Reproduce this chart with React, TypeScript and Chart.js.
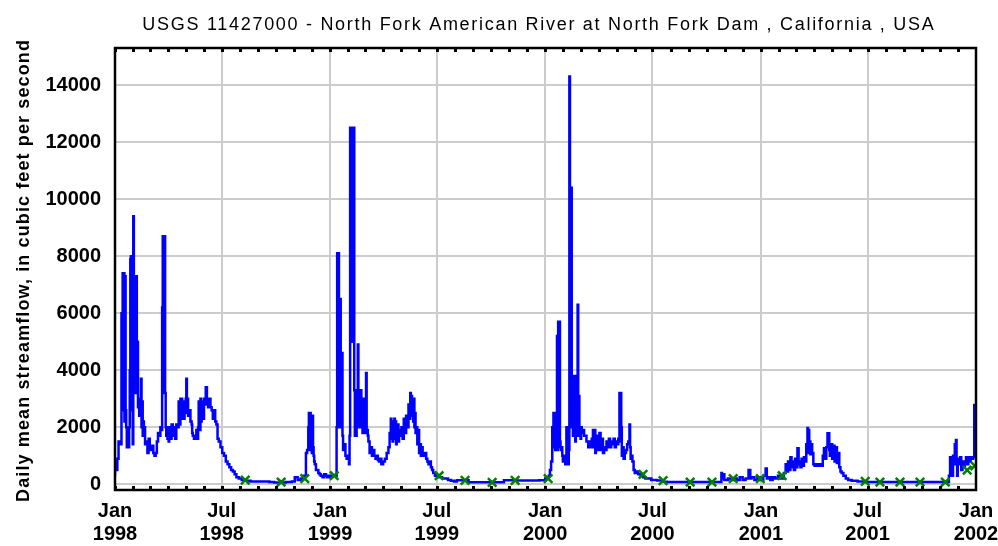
import React, { useEffect, useRef } from "react";
import { Chart, registerables } from "chart.js";

Chart.register(...registerables);

// ---------- text ----------
const chartTitle =
  "USGS 11427000 - North Fork American River at North Fork Dam , California , USA";
const yAxisTitle = "Daily mean streamflow, in cubic feet per second";

// ---------- axes ----------
const yTicks = [0, 2000, 4000, 6000, 8000, 10000, 12000, 14000];
const xTickMonths: [number, number][] = [
  [1998, 0], [1998, 6], [1999, 0], [1999, 6], [2000, 0],
  [2000, 6], [2001, 0], [2001, 6], [2002, 0],
];
const xTickLabels = [
  ["Jan", "1998"], ["Jul", "1998"], ["Jan", "1999"], ["Jul", "1999"], ["Jan", "2000"],
  ["Jul", "2000"], ["Jan", "2001"], ["Jul", "2001"], ["Jan", "2002"],
];

// ---------- data: [day since 1998-01-01, daily mean flow cfs] ----------
const flow1998: [number, number][] = [
  [0, 300], [2, 800], [4, 500], [6, 900], [8, 1500], [11, 1400], [13, 6000], [14, 7400], [15, 2600],
  [16, 7400], [17, 2200], [18, 7300], [19, 2600], [20, 2000], [22, 1300], [24, 1300], [25, 2000],
  [26, 4000], [27, 7900], [28, 8000], [29, 2600], [30, 8000], [31, 1400], [32, 9400], [33, 7300],
  [34, 3200], [35, 7300], [36, 4000], [37, 7300], [38, 3200], [39, 5000], [40, 2700], [41, 3000],
  [42, 2400], [44, 2600], [45, 3700], [46, 2000], [47, 2900], [48, 1700], [49, 2200], [51, 2000],
  [53, 1400], [55, 1500], [57, 1100], [59, 1600], [61, 1300], [63, 1200], [65, 1350], [67, 1100],
  [69, 1000], [71, 1100], [73, 1500], [75, 1800], [77, 1700], [79, 2000], [80, 1900], [81, 6200],
  [82, 8700], [83, 8700], [84, 3200], [85, 8700], [86, 3200], [87, 2000], [88, 1700], [89, 2000],
  [90, 1600], [91, 2000], [92, 1500], [93, 2000], [94, 1700], [95, 1900], [96, 1600], [98, 2100],
  [100, 1700], [102, 2000], [104, 1600], [106, 2100], [108, 2000], [110, 2900], [111, 2100],
  [112, 3000], [113, 2400], [114, 3000], [115, 2300], [116, 2600], [117, 2700], [118, 2300],
  [119, 2900], [120, 2500], [121, 3000], [122, 3700], [123, 2600], [124, 3000], [126, 2400],
  [128, 2600], [130, 2200], [131, 2100], [132, 1800], [134, 1700], [136, 1600], [138, 1700],
  [140, 1900], [141, 1600], [142, 2000], [144, 2900], [145, 1900], [146, 3000], [147, 2200],
  [148, 2800], [149, 2400], [150, 2900], [151, 2300], [152, 3000], [154, 2800], [156, 3400],
  [157, 2800], [158, 3000], [160, 2700], [162, 3000], [164, 2700], [166, 2600], [168, 2300],
  [170, 2600], [172, 2200], [174, 2100], [176, 1600], [179, 1500], [182, 1300], [185, 1100],
  [188, 1000], [191, 800], [194, 700], [197, 600], [200, 500], [203, 450], [206, 350], [210, 250],
  [215, 200], [220, 150], [230, 120], [240, 100], [250, 100], [262, 100], [270, 80], [282, 60],
  [290, 60], [300, 80], [305, 100], [310, 250], [315, 150], [320, 200], [324, 300], [326, 1100],
  [328, 1200], [329, 2000], [330, 2500], [331, 1500], [332, 2500], [333, 1200], [334, 2400],
  [335, 1100], [336, 2400], [337, 1300], [338, 1000], [339, 800], [341, 700], [343, 500],
  [345, 500], [347, 400], [349, 350], [352, 300], [355, 250], [358, 350], [360, 300], [363, 250],
];

const flow1999: [number, number][] = [
  [365, 300], [368, 250], [371, 300], [376, 300], [377, 2000], [378, 8100], [379, 3500], [380, 8100],
  [381, 6500], [382, 2000], [383, 6500], [384, 4600], [385, 2000], [386, 4600], [387, 1700],
  [389, 1200], [391, 1400], [393, 1000], [395, 900], [397, 1000], [398, 700], [399, 1700],
  [400, 12500], [401, 5000], [402, 12500], [403, 5000], [404, 12500], [405, 5000], [406, 12500],
  [407, 3300], [408, 1700], [409, 3300], [410, 1700], [411, 3300], [412, 2000], [413, 4900],
  [414, 3300], [415, 2000], [416, 3300], [417, 2000], [418, 3300], [419, 2200], [420, 3000],
  [421, 1800], [422, 2800], [423, 1900], [424, 3000], [425, 2500], [426, 1800], [427, 3900],
  [428, 1800], [429, 1900], [430, 1700], [432, 1500], [434, 1100], [436, 1300], [438, 1000],
  [440, 1200], [442, 1000], [444, 900], [446, 1000], [448, 850], [450, 800], [452, 900], [455, 700],
  [458, 800], [461, 900], [464, 1100], [466, 1300], [467, 1800], [468, 1600], [469, 2300],
  [470, 1800], [471, 2200], [472, 1500], [473, 2100], [474, 1900], [475, 2300], [476, 1600],
  [477, 2200], [478, 1400], [479, 2000], [480, 1600], [481, 2100], [482, 1500], [484, 1900],
  [486, 1700], [488, 2000], [490, 1600], [492, 2300], [494, 1800], [496, 2400], [498, 2000],
  [500, 2800], [501, 2300], [502, 3200], [503, 2400], [504, 3100], [505, 2500], [506, 3000],
  [507, 2200], [508, 3000], [509, 2000], [510, 2500], [511, 1800], [513, 2000], [515, 1400],
  [516, 1900], [517, 1100], [519, 1400], [520, 1000], [522, 1300], [524, 1100], [526, 1000],
  [528, 1100], [530, 900], [532, 800], [534, 700], [536, 800], [538, 600], [540, 500], [543, 400],
  [546, 300], [550, 300], [555, 250], [560, 200], [565, 200], [570, 150], [575, 120], [580, 100],
  [585, 140], [600, 140], [605, 70], [620, 70], [640, 70], [660, 70], [665, 140], [680, 140],
  [700, 130], [720, 130],
];

const flow2000: [number, number][] = [
  [730, 140], [736, 200], [738, 300], [740, 500], [742, 800], [743, 2000], [744, 1300], [745, 2500],
  [746, 1600], [747, 2500], [748, 1200], [749, 2000], [750, 1300], [751, 5200], [752, 1200],
  [753, 5700], [754, 2000], [755, 5700], [756, 1500], [757, 1300], [758, 1200], [759, 1300],
  [760, 1000], [762, 800], [764, 1000], [765, 700], [766, 700], [767, 2000], [768, 800], [769, 2000],
  [770, 700], [771, 1200], [772, 14300], [773, 10400], [775, 10400], [776, 2000], [777, 3800],
  [778, 1700], [779, 3800], [780, 1700], [781, 2000], [782, 1500], [783, 3800], [784, 1700],
  [785, 3000], [786, 6300], [787, 1700], [788, 3100], [789, 1700], [790, 2000], [791, 1600],
  [792, 2000], [794, 1800], [796, 1900], [798, 1700], [800, 1700], [803, 1500], [805, 1300],
  [807, 1500], [809, 1300], [811, 1600], [812, 1900], [813, 1300], [815, 1900], [816, 1100],
  [818, 1700], [820, 1500], [822, 1200], [824, 1800], [826, 1200], [828, 1600], [830, 1100],
  [832, 1300], [834, 1200], [836, 1500], [838, 1300], [840, 1600], [842, 1300], [844, 1500],
  [846, 1400], [848, 1600], [850, 1300], [852, 1500], [854, 1400], [856, 1600], [857, 3200],
  [858, 1500], [859, 3200], [860, 2000], [861, 1000], [863, 1300], [865, 900], [867, 1100],
  [869, 1200], [871, 1400], [873, 1500], [874, 2100], [875, 1300], [876, 900], [878, 1000],
  [880, 800], [882, 500], [885, 400], [888, 450], [892, 350], [896, 300], [900, 250], [905, 200],
  [910, 200], [920, 150], [930, 130], [936, 90], [950, 80], [970, 80], [990, 80], [1010, 80],
  [1029, 80], [1030, 400], [1032, 200], [1034, 350], [1036, 150], [1040, 150], [1045, 200],
  [1050, 150], [1055, 200], [1060, 150], [1065, 250], [1070, 150], [1075, 200], [1078, 500],
  [1080, 200], [1085, 250], [1090, 150],
];

const flow2001: [number, number][] = [
  [1095, 250], [1100, 150], [1104, 300], [1106, 550], [1108, 200], [1112, 250], [1116, 150],
  [1120, 250], [1125, 200], [1130, 300], [1135, 200], [1138, 400], [1140, 700], [1142, 450],
  [1144, 800], [1146, 500], [1148, 950], [1150, 600], [1152, 800], [1154, 500], [1156, 900],
  [1158, 600], [1160, 1260], [1161, 700], [1163, 800], [1165, 600], [1167, 900], [1169, 650],
  [1171, 950], [1173, 800], [1175, 1400], [1176, 1970], [1177, 1100], [1178, 1900], [1179, 1300],
  [1180, 1500], [1182, 1050], [1183, 1400], [1185, 1100], [1187, 700], [1190, 650], [1193, 700],
  [1196, 650], [1199, 700], [1201, 650], [1203, 1000], [1205, 1260], [1207, 900], [1209, 1300],
  [1210, 1790], [1211, 1400], [1212, 1790], [1213, 1200], [1215, 1000], [1217, 1400], [1219, 900],
  [1221, 1350], [1223, 800], [1225, 1300], [1227, 750], [1229, 1100], [1231, 600], [1233, 450],
  [1236, 400], [1240, 300], [1244, 200], [1250, 150], [1260, 120], [1270, 100], [1280, 80],
  [1300, 80], [1330, 80], [1360, 80], [1390, 80], [1415, 80], [1417, 300], [1419, 950], [1420, 500],
  [1421, 950], [1422, 300], [1424, 1000], [1425, 700], [1427, 1400], [1428, 1550], [1429, 900],
  [1430, 300], [1432, 900], [1434, 700], [1436, 950], [1438, 500], [1440, 800], [1442, 600],
  [1444, 700], [1446, 950], [1448, 700], [1450, 950], [1452, 800], [1454, 950], [1456, 900],
  [1458, 950], [1459, 2780], [1461, 2780],
];

// estimated-value flags (green x markers)
const estimatedDays = [
  221, 282, 322, 372, 550, 594, 640, 679, 735, 896, 930, 976, 1013, 1049, 1095, 1132,
  1273, 1298, 1332, 1366, 1409, 1446, 1459,
];
const estimatedCfs = [
  150, 80, 200, 300, 300, 140, 70, 140, 200, 350, 130, 80, 80, 200, 200, 300,
  100, 80, 80, 80, 80, 500, 650,
];

// ---------- helpers ----------
const dayOf = (y: number, m: number) => (Date.UTC(y, m, 1) - Date.UTC(1998, 0, 1)) / 86400000;
const xTickDays = xTickMonths.map(([y, m]) => dayOf(y, m));

function drawFitted(ctx: CanvasRenderingContext2D, text: string, width: number) {
  const anyCtx = ctx as any;
  const n = text.length;
  if ("letterSpacing" in anyCtx) {
    anyCtx.letterSpacing = "0px";
    const w = ctx.measureText(text).width;
    const ls = (width - w) / n;
    anyCtx.letterSpacing = ls + "px";
    ctx.fillText(text, ls / 2, 0);
    anyCtx.letterSpacing = "0px";
  } else {
    const w = ctx.measureText(text).width;
    ctx.save();
    ctx.scale(width / w, 1);
    ctx.fillText(text, 0, 0);
    ctx.restore();
  }
}

const decorPlugin = {
  id: "decor",
  afterDraw(chart: any) {
    const { ctx, chartArea: a, scales } = chart;
    const xs = scales.x;
    ctx.save();
    // month tick marks on top and bottom borders
    ctx.fillStyle = "#000";
    for (let y = 1998; y <= 2001; y++) {
      for (let m = 0; m < 12; m++) {
        const px = Math.round(xs.getPixelForValue(dayOf(y, m)));
        ctx.fillRect(px - 1, a.bottom - 4, 3, 4);
        ctx.fillRect(px - 1, a.top, 3, 4);
      }
    }
    // plot frame
    ctx.strokeStyle = "#000";
    ctx.lineWidth = 2.5;
    ctx.strokeRect(a.left, a.top, a.right - a.left, a.bottom - a.top);

    // title
    ctx.fillStyle = "#000";
    ctx.font = '18px "Liberation Sans", Arial, sans-serif';
    ctx.textAlign = "center";
    ctx.textBaseline = "alphabetic";
    ctx.save();
    ctx.translate(538, 30);
    drawFitted(ctx, chartTitle, 793);
    ctx.restore();

    // y axis title
    ctx.font = 'bold 18px "Liberation Sans", Arial, sans-serif';
    ctx.save();
    ctx.translate(29, 271);
    ctx.rotate(-Math.PI / 2);
    drawFitted(ctx, yAxisTitle, 463);
    ctx.restore();
    ctx.restore();
  },
};

export default function App() {
  const ref = useRef<HTMLCanvasElement | null>(null);

  useEffect(() => {
    if (!ref.current) return;
    const flow = [...flow1998, ...flow1999, ...flow2000, ...flow2001].map(([d, v]) => ({ x: d, y: v }));
    const est = estimatedDays.map((d, i) => ({ x: d, y: estimatedCfs[i] }));
    const tickFont = { family: '"Liberation Sans", Arial, sans-serif', size: 20, weight: "bold" as const, lineHeight: 1.15 };

    const chart = new Chart(ref.current, {
      type: "line",
      data: {
        datasets: [
          {
            label: "Estimated",
            data: est,
            showLine: false,
            pointStyle: "crossRot",
            pointRadius: 6,
            pointBorderWidth: 2.5,
            borderColor: "#008000",
            backgroundColor: "#008000",
          },
          {
            label: "Discharge",
            data: flow,
            borderColor: "#0000ff",
            borderWidth: 2.5,
            pointRadius: 0,
            stepped: "after",
            fill: false,
          },
        ],
      },
      options: {
        animation: false,
        responsive: false,
        devicePixelRatio: 1,
        layout: { padding: { left: 0, top: 48, right: 22, bottom: 0 } },
        plugins: { legend: { display: false }, tooltip: { enabled: false }, title: { display: false } },
        scales: {
          x: {
            type: "linear",
            min: 0,
            max: 1461,
            afterBuildTicks: (s: any) => {
              s.ticks = xTickDays.map((v) => ({ value: v }));
            },
            afterFit: (s: any) => {
              s.height = 56;
              s.paddingLeft = 0;
              s.paddingRight = 0;
            },
            ticks: {
              autoSkip: false,
              maxRotation: 0,
              minRotation: 0,
              padding: 10,
              color: "#000",
              font: tickFont,
              callback: (_v: any, i: number) => xTickLabels[i],
            },
            grid: { color: "#cccccc", lineWidth: 2, drawTicks: false },
            border: { display: false },
          },
          y: {
            type: "linear",
            min: -200,
            max: 15300,
            afterBuildTicks: (s: any) => {
              s.ticks = yTicks.map((v) => ({ value: v }));
            },
            afterFit: (s: any) => {
              s.width = 115;
              s.paddingTop = 0;
              s.paddingBottom = 0;
            },
            ticks: {
              padding: 14,
              color: "#000",
              font: tickFont,
              callback: (v: any) => String(v),
            },
            grid: { color: "#cccccc", lineWidth: 2, drawTicks: false },
            border: { display: false },
          },
        },
      },
      plugins: [decorPlugin],
    });
    return () => chart.destroy();
  }, []);

  return (
    <div style={{ position: "absolute", left: 0, top: 0, width: 998, height: 546, background: "#fff" }}>
      <canvas ref={ref} width={998} height={546} />
    </div>
  );
}
